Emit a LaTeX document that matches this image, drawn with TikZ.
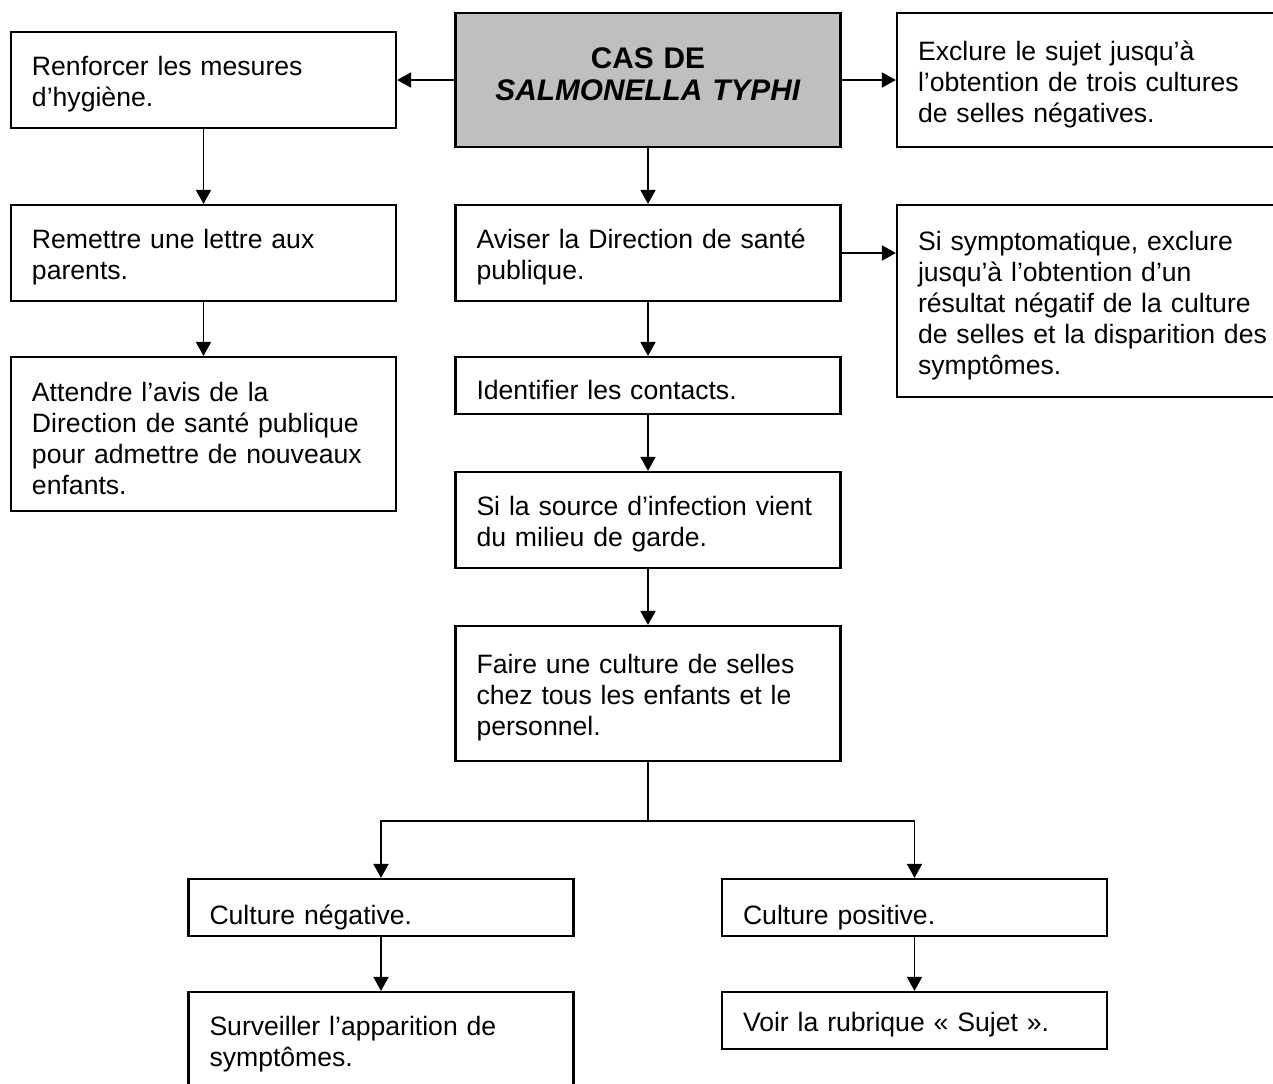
\documentclass[tikz,border=0pt]{standalone}
\usepackage{fontspec}
\setmainfont{Liberation Sans}
\usetikzlibrary{arrows.meta}

\begin{document}
\begin{tikzpicture}[x=0.5pt, y=-0.5pt,
  font=\fontsize{13.3}{15.5}\selectfont, >={Triangle[width=7.5pt,length=7pt]},
  line width=0.9pt,
  box/.style={draw, line width=1.1pt, rectangle, align=left, text width=171.5pt,
              inner xsep=10.5pt, inner ysep=3pt, minimum width=192.5pt,
              text height=14pt},
  cas/.style={box, fill=black!25, align=center, text height=5pt,
              font=\fontsize{14.9}{16}\selectfont\bfseries},
  low/.style={text height=16.5pt, text depth=0pt}]
  \clip (0,0) rectangle (1273,1083);

  % centre
  \node[cas, minimum height=67pt] (cas) at (648,80) {CAS DE\\\textit{SALMONELLA TYPHI}};
  \node[box, minimum height=48pt] (aviser) at (648,253) {Aviser la Direction de santé\\publique.};
  \node[box, minimum height=28.5pt] (ident) at (648,385.5) {Identifier les contacts.};
  \node[box, minimum height=48pt] (source) at (648,520) {Si la source d’infection vient\\du milieu de garde.};
  \node[box, minimum height=67.5pt] (faire) at (648,693.5) {Faire une culture de selles\\chez tous les enfants et le\\personnel.};

  % gauche
  \node[box, minimum height=48pt] (renf) at (203.5,80) {Renforcer les mesures\\d’hygiène.};
  \node[box, minimum height=48pt] (remet) at (203.5,253) {Remettre une lettre aux\\parents.};
  \node[box, minimum height=77pt] (attend) at (203.5,434) {Attendre l’avis de la\\Direction de santé publique\\pour admettre de nouveaux\\enfants.};

  % droite
  \node[box, minimum height=67pt] (excl) at (1089.5,80) {Exclure le sujet jusqu’à\\l’obtention de trois cultures\\de selles négatives.};
  \node[box, text width=176pt, minimum height=96pt] (sympt) at (1094,301) {Si symptomatique, exclure\\jusqu’à l’obtention d’un\\résultat négatif de la culture\\de selles et la disparition des\\symptômes.};

  % bas
  \node[box, low, minimum height=28.5pt] (neg) at (381,907.5) {Culture négative.};
  \node[box, low, minimum height=28.5pt] (pos) at (914.5,907.5) {Culture positive.};
  \node[box, minimum height=48pt] (surv) at (381,1040) {Surveiller l’apparition de\\symptômes.};
  \node[box, minimum height=28.5pt] (voir) at (914.5,1020.5) {Voir la rubrique «~Sujet~».};

  \coordinate (split) at (648,821);

  \draw[->] (cas.west) -- (renf.east);
  \draw[->] (cas.east) -- (excl.west);
  \draw[->] (cas) -- (aviser);
  \draw[->] (aviser.east) -- (aviser.east -| sympt.west);
  \draw[->] (aviser) -- (ident);
  \draw[->] (ident) -- (source);
  \draw[->] (source) -- (faire);
  \draw[->] (renf) -- (remet);
  \draw[->] (remet) -- (attend);
  \draw (faire) -- (split);
  \draw[->] (split) -| (neg);
  \draw[->] (split) -| (pos);
  \draw[->] (neg) -- (surv);
  \draw[->] (pos) -- (voir);
\end{tikzpicture}
\end{document}
